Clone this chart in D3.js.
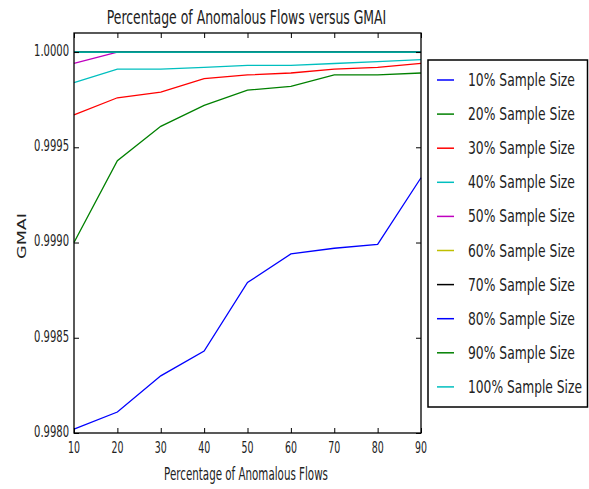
<!DOCTYPE html>
<html><head><meta charset="utf-8">
<script src="https://cdn.jsdelivr.net/npm/d3@7"></script>
<style>body{margin:0;background:#fff}svg{display:block}text{font-family:"DejaVu Sans",sans-serif;fill:#222}</style>
</head><body><svg id="c" width="589" height="489"></svg>
<script>
const xValues = [10,20,30,40,50,60,70,80,90];
const seriesNames = ["10% Sample Size","20% Sample Size","30% Sample Size","40% Sample Size","50% Sample Size","60% Sample Size","70% Sample Size","80% Sample Size","90% Sample Size","100% Sample Size"];
const seriesColors = ["#0000ff","#008000","#ff0000","#00bfbf","#bf00bf","#bfbf00","#000000","#0000ff","#008000","#00bfbf"];
const s10  = [0.99802,0.99811,0.99830,0.99843,0.99879,0.99894,0.99897,0.99899,0.99934];
const s20  = [0.99900,0.99943,0.99961,0.99972,0.99980,0.99982,0.99988,0.99988,0.99989];
const s30  = [0.99967,0.99976,0.99979,0.99986,0.99988,0.99989,0.99991,0.99992,0.99994];
const s40  = [0.99984,0.99991,0.99991,0.99992,0.99993,0.99993,0.99994,0.99995,0.99996];
const s50  = [0.99994,1,1,1,1,1,1,1,1];
const s60  = [1,1,1,1,1,1,1,1,1];
const s70  = [1,1,1,1,1,1,1,1,1];
const s80  = [1,1,1,1,1,1,1,1,1];
const s90  = [1,1,1,1,1,1,1,1,1];
const s100 = [1,1,1,1,1,1,1,1,1];
const seriesValues = [s10,s20,s30,s40,s50,s60,s70,s80,s90,s100];
const yTicks = [0.9980,0.9985,0.9990,0.9995,1.0000];
const xTicks = [10,20,30,40,50,60,70,80,90];
const titleText = "Percentage of Anomalous Flows versus GMAI";
const xLabel = "Percentage of Anomalous Flows";
const yLabel = "GMAI";

const svg = d3.select("#c");
const L=74, R=421, T=33, B=433;
const x = d3.scaleLinear().domain([10,90]).range([L,R]);
const y = d3.scaleLinear().domain([0.998,1.0001]).range([B,T]);

// text helper: the reference is horizontally compressed, so each text is squeezed to its measured width
function label(px, py, str, size, anchor, width, opts={}) {
  const rot = opts.rotate || 0;
  const g = svg.append("g");
  const t = g.append("text").attr("x",0).attr("y",0).attr("text-anchor",anchor)
    .attr("dominant-baseline", opts.baseline || "auto")
    .attr("font-size",size).text(str);
  const w = t.node().getComputedTextLength();
  const sx = width / w;
  g.attr("transform",`translate(${px},${py}) rotate(${rot}) scale(${sx},1)`);
  return g;
}

svg.append("clipPath").attr("id","pc").append("rect").attr("x",L-1).attr("y",T).attr("width",R-L+2).attr("height",B-T);
const line = d3.line().x((d,i)=>x(xValues[i])).y(d=>y(d));
seriesValues.forEach((vals,k)=>{
  svg.append("path").datum(vals).attr("d",line).attr("fill","none")
    .attr("stroke",seriesColors[k]).attr("stroke-width",1.3).attr("clip-path","url(#pc)");
});

// ticks (inside, on all four sides)
const gl = svg.append("g").attr("transform",`translate(${L},0)`)
  .call(d3.axisLeft(y).tickValues(yTicks).tickFormat("").tickSizeInner(-5).tickSizeOuter(0));
const gr = svg.append("g").attr("transform",`translate(${R},0)`)
  .call(d3.axisRight(y).tickValues(yTicks).tickFormat("").tickSizeInner(-5).tickSizeOuter(0));
const gb = svg.append("g").attr("transform",`translate(0,${B})`)
  .call(d3.axisBottom(x).tickValues(xTicks).tickFormat("").tickSizeInner(-5).tickSizeOuter(0));
const gt = svg.append("g").attr("transform",`translate(0,${T})`)
  .call(d3.axisTop(x).tickValues(xTicks).tickFormat("").tickSizeInner(-5).tickSizeOuter(0));
[gl,gr,gb,gt].forEach(g=>{g.select(".domain").remove();g.selectAll("line").attr("stroke","#000");});

// tick labels
const fmt = d3.format(".4f");
yTicks.forEach(v=>label(L-5, y(v)-1.5, fmt(v), 16, "end", 35, {baseline:"central"}));
xTicks.forEach(v=>label(x(v), B+15, String(v), 16, "middle", 12, {baseline:"central"}));

svg.append("rect").attr("x",L).attr("y",T).attr("width",R-L).attr("height",B-T)
  .attr("fill","none").attr("stroke","#000").attr("stroke-width",1.3);

label(246.5, 24, titleText, 19, "middle", 280);
label(246, 480, xLabel, 18, "middle", 164);
label(26, 236, yLabel, 11.5, "middle", 46, {rotate:-90});

// legend
const lg = svg.append("g");
lg.append("rect").attr("x",428).attr("y",60).attr("width",159.5).attr("height",347)
  .attr("fill","#fff").attr("stroke","#000").attr("stroke-width",1.5);
seriesNames.forEach((n,i)=>{
  const yy = 80 + i*34.1;
  svg.append("line").attr("x1",437).attr("x2",454).attr("y1",yy).attr("y2",yy)
    .attr("stroke",seriesColors[i]).attr("stroke-width",1.5);
  label(468, yy+6, n, 17, "start", i===9?114:107);
});
</script></body></html>
